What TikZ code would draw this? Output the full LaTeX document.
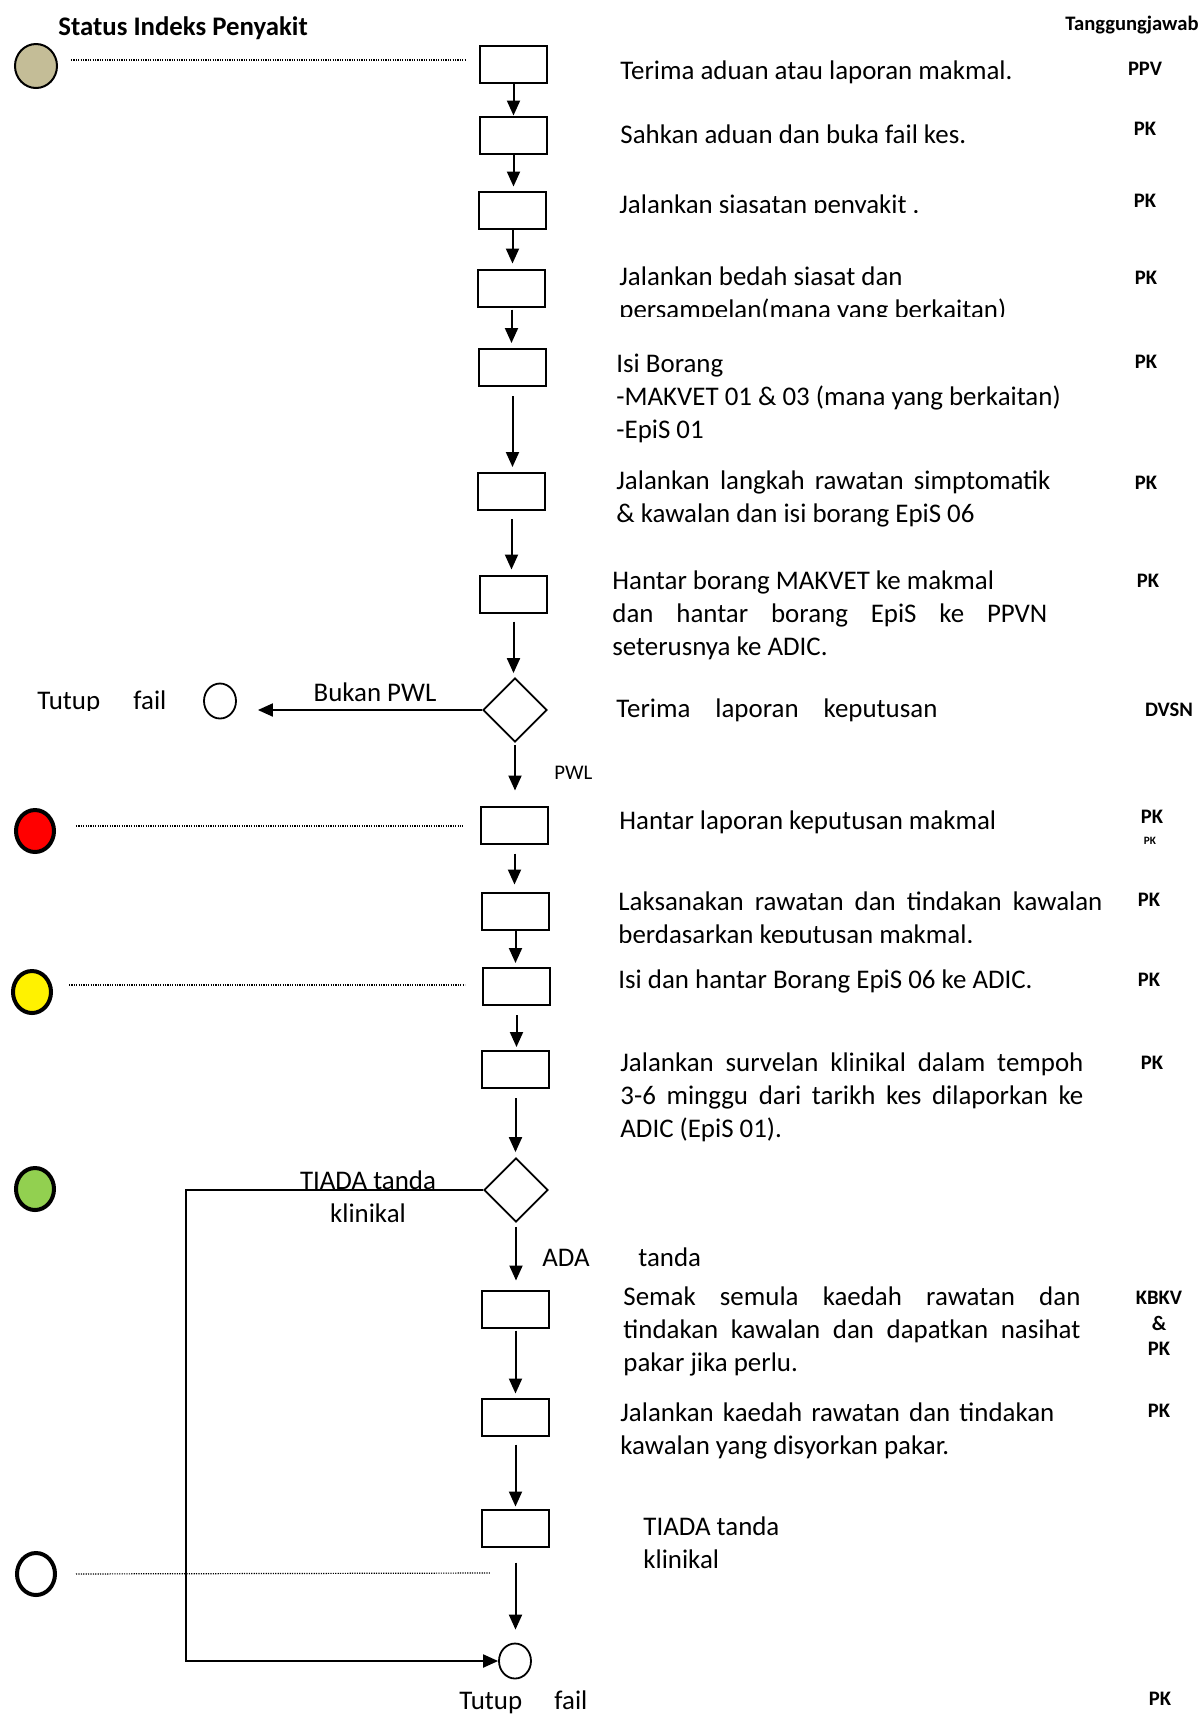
\documentclass[tikz,border=0pt]{standalone}
\usepackage{fontspec}
\setmainfont{Carlito}
\usetikzlibrary{arrows.meta, positioning, shapes.geometric}
\definecolor{tanfill}{HTML}{C4BD97}
\definecolor{hijau}{HTML}{92D050}
\newcommand{\rata}[2]{\makebox[#1][s]{\spaceskip=0pt\relax #2}}

\begin{document}
\begin{tikzpicture}[
    x=0.5pt, y=-0.5pt,
    every node/.style={font=\fontsize{13.45}{16.5}\selectfont, inner sep=0pt},
    kotak/.style={draw, line width=1pt, minimum width=33.5pt, minimum height=18.5pt},
    keputusan/.style={draw, diamond, line width=0.9pt, minimum width=32pt, minimum height=32pt},
    status/.style={draw, ellipse, line width=2pt, minimum width=19pt, minimum height=21pt},
    tamat/.style={draw, ellipse, line width=0.9pt, minimum width=16pt, minimum height=17.5pt},
    aliran/.style={-{Triangle[length=7.5pt,width=6.5pt]}, line width=1pt},
    titik/.style={line width=0.6pt, dash pattern=on 0.6pt off 0.6pt},
    langkah/.style={anchor=base west, text width=250pt, align=flush left},
    tj/.style={font=\fontsize{10.3}{12}\selectfont\bfseries, anchor=base},
  ]
  \useasboundingbox (0,0) rectangle (1203,1715);

  % tajuk
  \node[anchor=base west, font=\fontsize{13.4}{16}\selectfont\bfseries] (judul) at (58,35) {Status Indeks Penyakit};
  \node[tj] (tanggung) at (1132,30) {Tanggungjawab};

  % status (bulatan kiri)
  \node[status, line width=1pt, fill=tanfill, minimum width=21pt, minimum height=22pt] (s1) at (36,66) {};
  \node[status, fill=red] (s2) at (35,831) {};
  \node[status, fill=yellow] (s3) at (32,992) {};
  \node[status, fill=hijau] (s4) at (35,1189) {};
  \node[status, fill=white] (s5) at (36,1574) {};

  % aliran utama
  \node[kotak] (b1) at (513.5,64) {};
  \node[kotak] (b2) at (513.5,135) {};
  \node[kotak] (b3) at (512.5,210) {};
  \node[kotak] (b4) at (511.5,288) {};
  \node[kotak] (b5) at (512.5,367.5) {};
  \node[kotak] (b6) at (511.5,491.5) {};
  \node[kotak] (b7) at (513.5,594) {};
  \node[keputusan] (d1) at (515,710) {};
  \node[kotak] (b8) at (514.5,825) {};
  \node[kotak] (b9) at (515.5,911) {};
  \node[kotak] (b10) at (516.5,986.5) {};
  \node[kotak] (b11) at (515.5,1069.5) {};
  \node[keputusan] (d2) at (516,1190) {};
  \node[kotak] (b12) at (515.5,1309) {};
  \node[kotak] (b13) at (515.5,1417) {};
  \node[kotak] (b14) at (515.5,1528) {};
  \node[tamat] (akhir) at (515,1661) {};
  \node[tamat] (tutup1) at (220,701) {};

  \foreach \a/\b/\p/\q in {b1/b2/0/0, b2/b3/0/2, b3/b4/0/2.5, b4/b5/1/2.5,
      b5/b6/4.5/2.5, b6/b7/4/2.5, b7/d1/4/2, d1/b8/1/7.5, b8/b9/4.5/3.5,
      b9/b10/0/2, b10/b11/4.5/1.5, b11/d2/4.5/2.5, d2/b12/2/4.5,
      b12/b13/1/2, b13/b14/4/1, b14/akhir/7.5/6.5}
    \draw[aliran, shorten <=\p pt, shorten >=\q pt] (\a.south) -- (\a.south |- \b.north);

  % cabang keputusan
  \draw[aliran, shorten >=10.5pt] (d1.west) -- (d1.west -| tutup1.east);
  \coordinate (sudut) at (186,1190);
  \draw[aliran] (d2.west) -- (sudut) |- (akhir.west);

  % garis titik status
  \draw[titik, shorten <=6.5pt, shorten >=7pt] ([yshift=3pt]s1.east) -- ([yshift=3pt]s1.east -| b1.west);
  \draw[titik, shorten <=10pt, shorten >=8.5pt] ([yshift=2.5pt]s2.east) -- ([yshift=2.5pt]s2.east -| b8.west);
  \draw[titik, shorten <=8pt, shorten >=8.5pt] ([yshift=3.5pt]s3.east) -- ([yshift=3.5pt]s3.east -| b10.west);
  \coordinate (ujung) at (491,1573);
  \draw[titik, shorten <=9.5pt] (s5.east) -- (ujung);

  % label cabang
  \node[anchor=base] (bukan) at (375,701) {Bukan PWL};
  \begin{scope}
    \clip (20,670) rectangle (190,710);
    \node[anchor=base west] (tutupkiri) at (37,709) {\rata{64.5pt}{Tutup fail}};
  \end{scope}
  \node[anchor=base west, font=\fontsize{10.4}{12}\selectfont] (pwl) at (554,779) {PWL};
  \node[anchor=base, text width=80pt, align=flush center] (tiada) at (368,1189) {TIADA tanda\\klinikal};
  \node[anchor=base west] (ada) at (542,1266) {ADA};
  \node[anchor=base west] (ada2) at (638,1266) {tanda};
  \node[anchor=base west] (tutupbawah) at (459,1709) {\rata{64pt}{Tutup fail}};

  % langkah kerja
  \node[langkah] (t1) at (620,79) {Terima aduan atau laporan makmal.};
  \node[langkah] (t2) at (620,143) {Sahkan aduan dan buka fail kes.};
  \begin{scope}
    \clip (600,180) rectangle (1050,212);
    \node[langkah] (t3) at (619,213) {Jalankan siasatan penyakit .};
  \end{scope}
  \begin{scope}
    \clip (600,250) rectangle (1050,316);
    \node[langkah] (t4) at (619,285) {Jalankan bedah siasat dan\\persampelan(mana yang berkaitan)};
  \end{scope}
  \node[langkah] (t5) at (616,372) {Isi Borang\\-MAKVET 01 \& 03 (mana yang berkaitan)\\-EpiS 01};
  \node[langkah] (t6) at (616,489) {\rata{217pt}{Jalankan langkah rawatan simptomatik}\\\& kawalan dan isi borang EpiS 06};
  \node[langkah] (t7) at (612,589) {Hantar borang MAKVET ke makmal\\\rata{217.5pt}{dan hantar borang EpiS ke PPVN}\\seterusnya ke ADIC.};
  \node[langkah] (t8) at (616,717) {\rata{160.5pt}{Terima laporan keputusan}};
  \node[langkah] (t9) at (619,829) {Hantar laporan keputusan makmal};
  \begin{scope}
    \clip (600,880) rectangle (1110,942);
    \node[langkah] (t10) at (618,910) {\rata{242pt}{Laksanakan rawatan dan tindakan kawalan}\\berdasarkan keputusan makmal.};
  \end{scope}
  \node[langkah] (t11) at (618,988) {Isi dan hantar Borang EpiS 06 ke ADIC.};
  \node[langkah] (t12) at (620,1071) {\rata{231.5pt}{Jalankan survelan klinikal dalam tempoh}\\\rata{231.5pt}{3-6 minggu dari tarikh kes dilaporkan ke}\\ADIC (EpiS 01).};
  \node[langkah] (t13) at (623,1305) {\rata{228.5pt}{Semak semula kaedah rawatan dan}\\\rata{228.5pt}{tindakan kawalan dan dapatkan nasihat}\\pakar jika perlu.};
  \node[langkah] (t14) at (620,1421) {\rata{217pt}{Jalankan kaedah rawatan dan tindakan}\\kawalan yang disyorkan pakar.};
  \node[langkah] (t15) at (643,1535) {TIADA tanda\\klinikal};

  % tanggungjawab
  \node[tj] (r1) at (1145,75) {PPV};
  \node[tj] (r2) at (1145,135) {PK};
  \node[tj] (r3) at (1145,207) {PK};
  \node[tj] (r4) at (1146,284) {PK};
  \node[tj] (r5) at (1146,368) {PK};
  \node[tj] (r6) at (1146,489) {PK};
  \node[tj] (r7) at (1148,587) {PK};
  \node[tj] (r8) at (1169,716) {DVSN};
  \node[tj] (r9) at (1152,823) {PK};
  \node[tj, font=\fontsize{5.6}{7}\selectfont\bfseries] (r9b) at (1150,844) {PK};
  \node[tj] (r10) at (1149,906) {PK};
  \node[tj] (r11) at (1149,986) {PK};
  \node[tj] (r12) at (1152,1069) {PK};
  \node[tj] (r13) at (1159,1304) {KBKV};
  \node[tj] (r13b) at (1159,1330) {\&};
  \node[tj] (r13c) at (1159,1355) {PK};
  \node[tj] (r14) at (1159,1417) {PK};
  \node[tj] (r15) at (1160,1705) {PK};
\end{tikzpicture}
\end{document}
